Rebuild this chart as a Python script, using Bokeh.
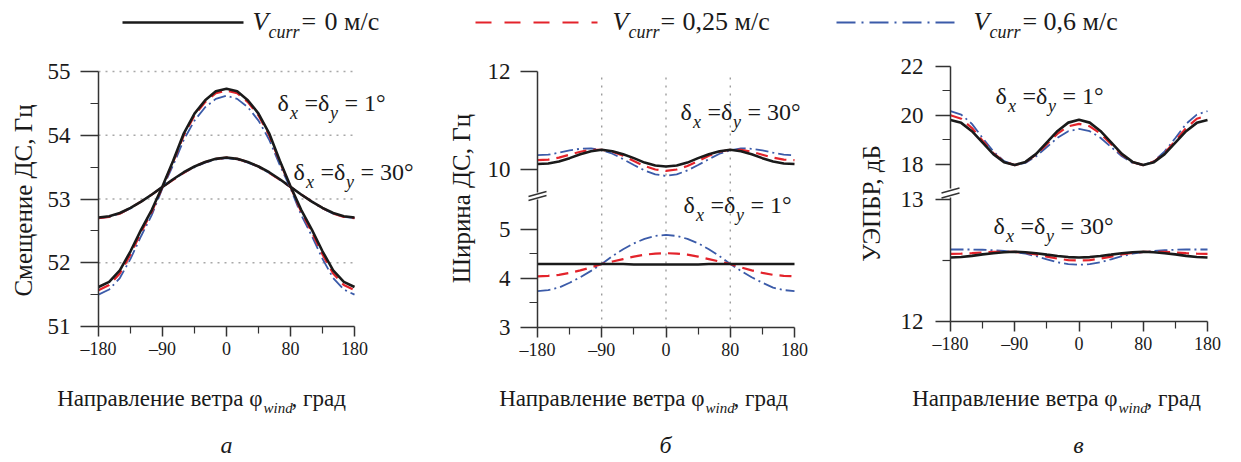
import math
from bokeh.plotting import figure
from bokeh.models import Range1d, FixedTicker, Label, LinearAxis
from bokeh.embed import file_html
from bokeh.resources import INLINE

# ---------------- data ----------------
phi = [-180, -165, -150, -135, -120, -105, -90, -75, -60, -45, -30, -15, 0,
       15, 30, 45, 60, 75, 90, 105, 120, 135, 150, 165, 180]
x_ticks = [-180, -90, 0, 90, 180]
x_minor = [-135, -45, 45, 135]
x_tick_labels = ["–180", "–90", "0", "80", "180"]
legend_values = ["0 м/с", "0,25 м/с", "0,6 м/с"]

# panel a: Doppler shift, Hz
a1_v0 = [51.62, 51.70, 51.88, 52.18, 52.52, 52.83, 53.20, 53.60, 54.03, 54.34, 54.55, 54.69, 54.73,
         54.69, 54.55, 54.34, 54.03, 53.60, 53.20, 52.83, 52.52, 52.18, 51.88, 51.70, 51.62]
a1_v025 = [51.57, 51.65, 51.83, 52.13, 52.48, 52.80, 53.19, 53.58, 54.00, 54.31, 54.52, 54.66, 54.70,
           54.66, 54.52, 54.31, 54.00, 53.58, 53.19, 52.80, 52.48, 52.13, 51.83, 51.65, 51.57]
a1_v06 = [51.50, 51.58, 51.76, 52.06, 52.42, 52.75, 53.17, 53.53, 53.93, 54.23, 54.44, 54.57, 54.62,
          54.57, 54.44, 54.23, 53.93, 53.53, 53.17, 52.75, 52.42, 52.06, 51.76, 51.58, 51.50]
a30_v0 = [52.71, 52.73, 52.78, 52.86, 52.96, 53.07, 53.19, 53.31, 53.42, 53.51, 53.58, 53.63, 53.65,
          53.63, 53.58, 53.51, 53.42, 53.31, 53.19, 53.07, 52.96, 52.86, 52.78, 52.73, 52.71]
a30_v025 = [52.70, 52.72, 52.77, 52.86, 52.96, 53.07, 53.19, 53.30, 53.41, 53.51, 53.58, 53.63, 53.65,
            53.63, 53.58, 53.51, 53.41, 53.30, 53.19, 53.07, 52.96, 52.86, 52.77, 52.72, 52.70]
a30_v06 = [52.70, 52.72, 52.77, 52.85, 52.96, 53.07, 53.19, 53.30, 53.41, 53.50, 53.57, 53.62, 53.64,
           53.62, 53.57, 53.50, 53.41, 53.30, 53.19, 53.07, 52.96, 52.85, 52.77, 52.72, 52.70]

# panel b: Doppler spectrum width, Hz
b30_v0 = [10.12, 10.13, 10.17, 10.24, 10.32, 10.38, 10.41, 10.38, 10.32, 10.24, 10.15, 10.09, 10.07,
          10.09, 10.15, 10.24, 10.32, 10.38, 10.41, 10.38, 10.32, 10.24, 10.17, 10.13, 10.12]
b30_v025 = [10.20, 10.21, 10.25, 10.31, 10.37, 10.41, 10.41, 10.37, 10.29, 10.18, 10.08, 10.01, 9.98,
            10.01, 10.08, 10.18, 10.29, 10.37, 10.41, 10.41, 10.37, 10.31, 10.25, 10.21, 10.20]
b30_v06 = [10.30, 10.31, 10.35, 10.40, 10.43, 10.44, 10.40, 10.33, 10.22, 10.10, 9.99, 9.91, 9.88,
           9.91, 9.99, 10.10, 10.22, 10.33, 10.40, 10.44, 10.43, 10.40, 10.35, 10.31, 10.30]
b1_v0 = [4.29, 4.29, 4.29, 4.29, 4.29, 4.29, 4.29, 4.29, 4.29, 4.28, 4.28, 4.28, 4.28,
         4.28, 4.28, 4.28, 4.29, 4.29, 4.29, 4.29, 4.29, 4.29, 4.29, 4.29, 4.29]
b1_v025 = [4.04, 4.05, 4.07, 4.11, 4.16, 4.22, 4.29, 4.34, 4.39, 4.44, 4.48, 4.50, 4.51,
           4.50, 4.48, 4.44, 4.39, 4.34, 4.29, 4.22, 4.16, 4.11, 4.07, 4.05, 4.04]
b1_v06 = [3.74, 3.76, 3.81, 3.91, 4.02, 4.15, 4.29, 4.45, 4.59, 4.71, 4.80, 4.86, 4.88,
          4.86, 4.80, 4.71, 4.59, 4.45, 4.29, 4.15, 4.02, 3.91, 3.81, 3.76, 3.74]

# panel c: level, dB
c1_v0 = [19.81, 19.69, 19.35, 18.88, 18.41, 18.08, 17.96, 18.09, 18.42, 18.89, 19.36, 19.70, 19.82,
         19.70, 19.36, 18.89, 18.42, 18.09, 17.96, 18.08, 18.41, 18.88, 19.35, 19.69, 19.81]
c1_v025 = [20.00, 19.86, 19.48, 18.96, 18.45, 18.10, 17.96, 18.08, 18.39, 18.82, 19.25, 19.55, 19.65,
           19.55, 19.25, 18.82, 18.39, 18.08, 17.96, 18.10, 18.45, 18.96, 19.48, 19.86, 20.00]
c1_v06 = [20.17, 20.03, 19.65, 19.07, 18.52, 18.12, 17.96, 18.05, 18.32, 18.70, 19.08, 19.35, 19.44,
          19.35, 19.08, 18.70, 18.32, 18.05, 17.96, 18.12, 18.52, 19.07, 19.65, 20.03, 20.17]
c30_v0 = [12.525, 12.529, 12.538, 12.550, 12.560, 12.568, 12.572, 12.568, 12.560, 12.548, 12.537, 12.528, 12.525,
          12.528, 12.537, 12.548, 12.560, 12.568, 12.572, 12.568, 12.560, 12.550, 12.538, 12.529, 12.525]
c30_v025 = [12.555, 12.556, 12.560, 12.566, 12.570, 12.572, 12.570, 12.563, 12.550, 12.532, 12.515, 12.503, 12.500,
            12.503, 12.515, 12.532, 12.550, 12.563, 12.570, 12.572, 12.570, 12.566, 12.560, 12.556, 12.555]
c30_v06 = [12.590, 12.590, 12.590, 12.588, 12.584, 12.578, 12.568, 12.556, 12.535, 12.510, 12.485, 12.470, 12.465,
           12.470, 12.485, 12.510, 12.535, 12.556, 12.568, 12.578, 12.584, 12.588, 12.590, 12.590, 12.590]

a_yticks = [51, 52, 53, 54, 55]
a_yminor = [51.5, 52.5, 53.5, 54.5]
a_grid = [52, 53, 54, 55]
b_yticks_low = [3, 4, 5]
b_yminor_low = [3.5, 4.5]
b_yticks_up = [10, 12]
b_grid = [-90, 0, 90]
c_yticks_low = [12, 13]
c_yminor_low = [12.5]
c_yticks_up = [18, 20, 22]
c_yminor_up = [19, 21]

# ---------------- styles ----------------
W, H = 1238, 460
FONT = "'Liberation Serif', serif"
INK = "#1a1a1a"
AX = "#333333"
STY = [
    dict(color="#1a1a1a", width=2.6, dash="solid"),
    dict(color="#e3232b", width=2.2, dash="12 7"),
    dict(color="#3b5ba9", width=1.8, dash="13 4 2 4"),
]
LEG_DASH = ["solid", "16 13", "19 6 2 6"]

B_OFF = 3.8                     # panel b: upper part shifted down (axis break)
def b_up(v):
    return v - B_OFF

def c_up(v):                    # panel c: upper part compressed (axis break)
    return 13.29 + (v - 18.0) * 0.2


def xmap(px0, v0, px1, v1):
    s = (v1 - v0) / (px1 - px0)
    return Range1d(v0 - px0 * s, v0 + (W - px0) * s)


def ymap(py0, v0, py1, v1):
    s = (v1 - v0) / (py1 - py0)
    return Range1d(v0 + (H - py0) * s, v0 - py0 * s)


p = figure(width=W, height=H, x_range=Range1d(0, W), y_range=Range1d(H, 0),
           output_backend="svg", toolbar_location=None, min_border=0,
           x_axis_location=None, y_axis_location=None)
p.outline_line_color = None
p.background_fill_color = "white"
p.border_fill_color = "white"
for g in p.grid:
    g.visible = False

# panel frames (page pixels): a: x 98..354, y 71..326 ; b: x 537..794, y 71..327 ; c: x 950..1207, y 66..321
p.extra_x_ranges = {"ax": xmap(98, -180, 354, 180), "bx": xmap(537, -180, 794, 180),
                    "cx": xmap(950, -180, 1207, 180)}
p.extra_y_ranges = {"ay": ymap(326, 51, 71, 55), "by": ymap(327, 3, 71, 8.2),
                    "cy": ymap(321, 12, 66, 14.09)}


def lab(x, y, text, size, style="normal", align="left", angle=0.0):
    p.add_layout(Label(x=x, y=y, text=text, text_font=FONT, text_font_size=f"{size}px",
                       text_font_style=style, text_align=align, text_baseline="middle",
                       angle=angle, text_color=INK))


def style_axis(ax, tick_out, minor_out, standoff, size):
    ax.major_label_text_font = FONT
    ax.major_label_text_font_size = f"{size}px"
    ax.major_label_text_color = INK
    ax.major_label_standoff = standoff
    ax.axis_line_color = AX
    ax.axis_line_width = 1.5
    ax.major_tick_in = 0
    ax.minor_tick_in = 0
    ax.major_tick_out = tick_out
    ax.minor_tick_out = minor_out
    ax.major_tick_line_color = AX
    ax.major_tick_line_width = 1.5
    ax.minor_tick_line_color = AX
    ax.minor_tick_line_width = 1.2


def x_axis(xn, yn, loc):
    ax = LinearAxis(x_range_name=xn, y_range_name=yn, fixed_location=loc, bounds=(-180, 180),
                    ticker=FixedTicker(ticks=x_ticks, minor_ticks=x_minor),
                    major_label_overrides=dict(zip(x_ticks, x_tick_labels)))
    style_axis(ax, 10, 7, 2, 18)
    p.add_layout(ax, "below")


def y_axis(xn, yn, pos, labels, minor, bounds, tick_out, standoff):
    ax = LinearAxis(x_range_name=xn, y_range_name=yn, fixed_location=-180, bounds=bounds,
                    ticker=FixedTicker(ticks=pos, minor_ticks=minor),
                    major_label_overrides={q: str(v) for q, v in zip(pos, labels)})
    style_axis(ax, tick_out, 8, standoff, 23)
    p.add_layout(ax, "left")


def draw_group(xn, yn, ys, f=None):
    for yv, st in list(zip(ys, STY))[::-1]:        # blue first, black on top
        yy = [f(v) for v in yv] if f else yv
        p.line(phi, yy, x_range_name=xn, y_range_name=yn,
               line_color=st["color"], line_width=st["width"], line_dash=st["dash"])


def delta_label(x0, yb, deg):
    # δx =δy = N°  (page pixels; yb = baseline)
    ym, ys = yb - 8, yb + 2
    lab(x0, ym, "δ", 24)
    lab(x0 + 12.5, ys, "x", 18, "italic")
    lab(x0 + 27, ym, "=δ", 24)
    lab(x0 + 52.5, ys, "y", 18, "italic")
    lab(x0 + 67, ym, "= " + str(deg) + "°", 24)


def xlabel(left, anchor):
    lab(anchor, 398, "Направление ветра φ", 23, align="right")
    lab(anchor + 1, 407, "wind", 15, "italic")
    lab(anchor + 29, 398, ", град", 23)


def axis_break(xpx, y1, y2):
    for yc in (y1, y2):
        p.line([xpx - 9, xpx + 9], [yc + 2.5, yc - 2.5], line_color=AX, line_width=1.3)


# ---------------- legend ----------------
leg_line_x = [(122, 243), (475, 597), (836, 958)]
leg_v_x = [252, 612, 973]
leg_eq_x = [301, 660, 1022]
leg_val_x = [324, 682, 1043]
for (lx0, lx1), vx, ex, tx, st, dash, val in zip(leg_line_x, leg_v_x, leg_eq_x, leg_val_x,
                                                 STY, LEG_DASH, legend_values):
    p.line([lx0, lx1], [22, 22], line_color=st["color"], line_width=max(st["width"], 2.0), line_dash=dash)
    lab(vx, 21, "V", 26, "italic")
    lab(vx + 16, 31, "curr", 18, "italic")
    lab(ex, 21, "=", 26)
    lab(tx, 21, val, 26)

# ---------------- panel a ----------------
p.segment(x0=[-180] * len(a_grid), y0=a_grid, x1=[180] * len(a_grid), y1=a_grid,
          x_range_name="ax", y_range_name="ay", line_color="#a8a8a8", line_width=1.5, line_dash="2 5")
draw_group("ax", "ay", [a30_v0, a30_v025, a30_v06])
draw_group("ax", "ay", [a1_v0, a1_v025, a1_v06])
x_axis("ax", "ay", 51)
y_axis("ax", "ay", a_yticks, a_yticks, a_yminor, (51, 55), 18, 10)
delta_label(277, 110, 1)
delta_label(293, 179, 30)
lab(23, 200, "Смещение ДС, Гц", 25, align="center", angle=math.pi / 2)
xlabel(63, 262)
lab(226, 444, "а", 24, "italic", align="center")

# ---------------- panel b ----------------
p.segment(x0=b_grid, y0=[3] * len(b_grid), x1=b_grid, y1=[b_up(12)] * len(b_grid),
          x_range_name="bx", y_range_name="by", line_color="#8c8c8c", line_width=1.2, line_dash="2 6")
draw_group("bx", "by", [b30_v0, b30_v025, b30_v06], b_up)
draw_group("bx", "by", [b1_v0, b1_v025, b1_v06])
x_axis("bx", "by", 3)
y_axis("bx", "by", b_yticks_low, b_yticks_low, b_yminor_low, (3, 5.60), 17, 10)
y_axis("bx", "by", [b_up(v) for v in b_yticks_up], b_yticks_up, [], (5.74, b_up(12)), 17, 10)
axis_break(537, 193.5, 197.5)
delta_label(680, 119, 30)
delta_label(683, 212, 1)
lab(461, 198, "Ширина ДС, Гц", 25, align="center", angle=math.pi / 2)
xlabel(505, 704)
lab(665, 444, "б", 24, "italic", align="center")

# ---------------- panel c ----------------
draw_group("cx", "cy", [c1_v0, c1_v025, c1_v06], c_up)
draw_group("cx", "cy", [c30_v0, c30_v025, c30_v06])
x_axis("cx", "cy", 12)
y_axis("cx", "cy", c_yticks_low, c_yticks_low, c_yminor_low, (12, 13.016), 15, 12)
y_axis("cx", "cy", [c_up(v) for v in c_yticks_up], c_yticks_up, [c_up(v) for v in c_yminor_up],
       (13.09, c_up(22)), 15, 12)
axis_break(950, 190, 195)
delta_label(995, 103, 1)
delta_label(993, 233, 30)
lab(871, 203, "УЭПБР, дБ", 25, align="center", angle=math.pi / 2)
xlabel(918, 1117)
lab(1078, 444, "в", 24, "italic", align="center")

open("out.html", "w").write(file_html(p, INLINE))
